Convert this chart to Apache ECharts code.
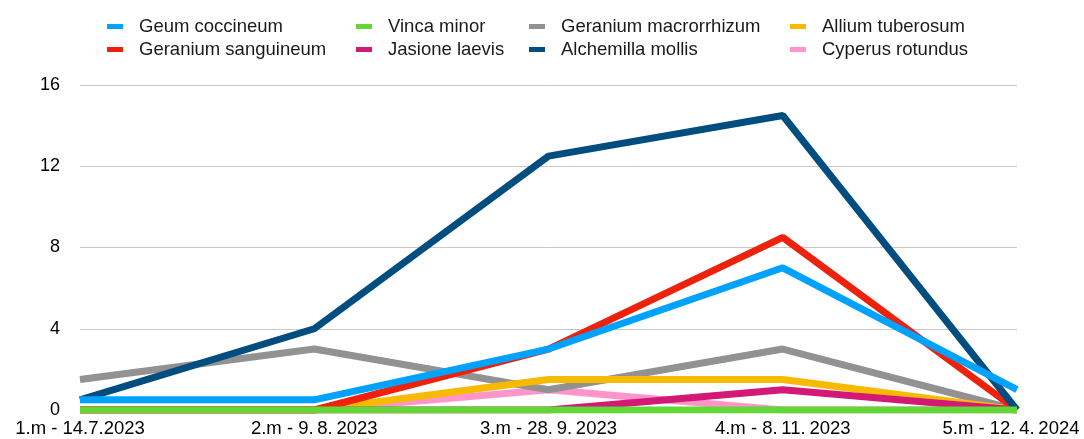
<!DOCTYPE html>
<html><head><meta charset="utf-8">
<script src="https://cdn.jsdelivr.net/npm/echarts@6/dist/echarts.min.js"></script>
<style>html,body{margin:0;padding:0;background:#fff}#c{width:1084px;height:439px}</style>
</head><body><div id="c"></div>
<script>
const categories = ['1.m - 14.7.2023', '2.m - 9.\u20098.\u20092023', '3.m - 28.\u20099.\u20092023', '4.m - 8.\u200911.\u20092023', '5.m - 12.\u20094.\u20092024'];
const yTicks = [0, 4, 8, 12, 16];
const geumCoccineum = [0.5, 0.5, 3, 7, 1];
const geraniumSanguineum = [0, 0, 3, 8.5, 0];
const vincaMinor = [0, 0, 0, 0, 0];
const jasioneLaevis = [0, 0, 0, 1, 0];
const geraniumMacrorrhizum = [1.5, 3, 1, 3, 0];
const alchemillaMollis = [0.5, 4, 12.5, 14.5, 0];
const alliumTuberosum = [0, 0, 1.5, 1.5, 0];
const cyperusRotundus = [0, 0, 1, 0, 0];

const seriesDefs = [
  ['Geum coccineum', geumCoccineum, '#00A2FF', 7],
  ['Geranium sanguineum', geraniumSanguineum, '#EE220C', 5],
  ['Vinca minor', vincaMinor, '#61D836', 10],
  ['Jasione laevis', jasioneLaevis, '#D31876', 4],
  ['Geranium macrorrhizum', geraniumMacrorrhizum, '#929292', 2],
  ['Alchemilla mollis', alchemillaMollis, '#004D7F', 6],
  ['Allium tuberosum', alliumTuberosum, '#F8BA00', 3],
  ['Cyperus rotundus', cyperusRotundus, '#FF95CA', 1]
];

const font = 'Helvetica, "Liberation Sans", Arial, sans-serif';
const legendCols = [
  [['Geum coccineum','Geranium sanguineum'], 107],
  [['Vinca minor','Jasione laevis'], 356],
  [['Geranium macrorrhizum','Alchemilla mollis'], 529],
  [['Allium tuberosum','Cyperus rotundus'], 790]
];

const labelStyle = {fontFamily: font, fontSize: 18.5, color: '#000'};
const chart = echarts.init(document.getElementById('c'));
chart.setOption({
  animation: false,
  color: seriesDefs.map(s => s[2]),
  legend: legendCols.map(c => ({
    data: c[0].map(n => ({name: n, icon: 'rect'})),
    left: c[1], top: 17, orient: 'vertical', itemGap: 4, padding: 0,
    itemWidth: 16, itemHeight: 5,
    textStyle: {fontFamily: font, fontSize: 18.5, color: '#1a1a1a', padding: [0,0,0,11]}
  })),
  grid: {left: 80, right: 67, top: 85, bottom: 29, outerBoundsMode: 'none', containLabel: false},
  xAxis: {
    type: 'category', data: categories, boundaryGap: false,
    axisLine: {show: false}, axisTick: {show: false},
    axisLabel: Object.assign({}, labelStyle, {
      margin: 9, interval: 0,
      formatter: (v, i) => i === categories.length - 1 ? '{last|' + v + '}' : v,
      rich: {last: Object.assign({}, labelStyle, {padding: [0, 12, 0, 0]})}
    })
  },
  yAxis: {
    type: 'value', min: yTicks[0], max: yTicks[yTicks.length-1], interval: 4,
    axisLine: {show: false}, axisTick: {show: false},
    axisLabel: {fontFamily: font, fontSize: 18, color: '#000', margin: 20},
    splitLine: {lineStyle: {color: '#c8c8c8', width: 1}}
  },
  series: seriesDefs.map(s => ({
    name: s[0], type: 'line', data: s[1], z: s[3],
    symbol: 'none', lineStyle: {width: 7, color: s[2]}, itemStyle: {color: s[2]}
  }))
});
</script></body></html>
